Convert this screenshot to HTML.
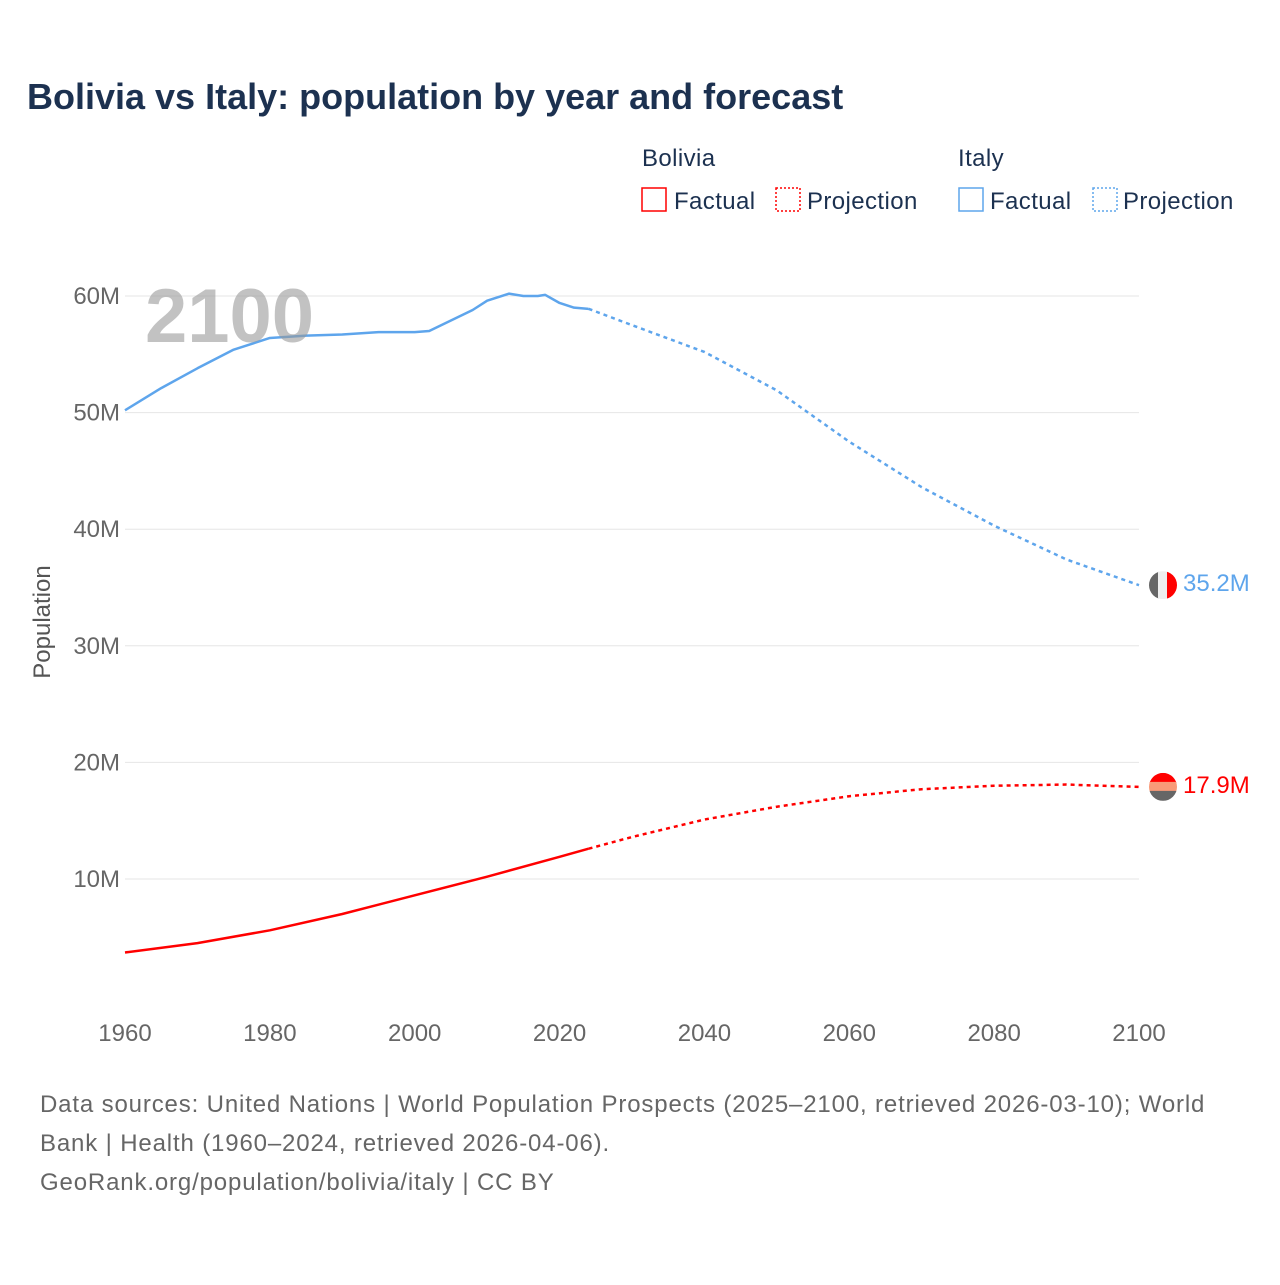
<!DOCTYPE html>
<html><head><meta charset="utf-8">
<style>
body{margin:0;background:#fff;font-family:"Liberation Sans",sans-serif;}
svg text{font-family:"Liberation Sans",sans-serif;}
</style></head>
<body>
<svg width="1280" height="1280" viewBox="0 0 1280 1280">
<text x="27" y="109" font-size="36" font-weight="bold" fill="#1c3150">Bolivia vs Italy: population by year and forecast</text>
<g letter-spacing="0.4">
<text x="642" y="166" font-size="24" fill="#1c3150">Bolivia</text>
<text x="958" y="166" font-size="24" fill="#1c3150">Italy</text>
<rect x="642" y="188" width="24" height="23" fill="none" stroke="#ff0000" stroke-width="1.5"/>
<text x="674" y="209" font-size="24" fill="#1c3150">Factual</text>
<rect x="776" y="188" width="24" height="23" fill="none" stroke="#ff0000" stroke-width="1.5" stroke-dasharray="2,2"/>
<text x="807" y="209" font-size="24" fill="#1c3150">Projection</text>
<rect x="959" y="188" width="24" height="23" fill="none" stroke="#5ea5ec" stroke-width="1.5"/>
<text x="990" y="209" font-size="24" fill="#1c3150">Factual</text>
<rect x="1093" y="188" width="24" height="23" fill="none" stroke="#5ea5ec" stroke-width="1.5" stroke-dasharray="2,2"/>
<text x="1123" y="209" font-size="24" fill="#1c3150">Projection</text>
</g>
<g id="grid"></g>
<g id="lines"></g>
<text x="145" y="342" font-size="76" font-weight="bold" fill="#999" fill-opacity="0.6">2100</text>
<text transform="translate(50,622) rotate(-90)" text-anchor="middle" font-size="24" fill="#555">Population</text>
<g id="ends"></g>
<g font-size="24" fill="#666" letter-spacing="0.85">
<text x="40" y="1112">Data sources: United Nations | World Population Prospects (2025–2100, retrieved 2026-03-10); World</text>
<text x="40" y="1151">Bank | Health (1960–2024, retrieved 2026-04-06).</text>
<text x="40" y="1190">GeoRank.org/population/bolivia/italy | CC BY</text>
</g>
</svg>
<script>
const xTicks=[1960,1980,2000,2020,2040,2060,2080,2100];
const yTicks=[10,20,30,40,50,60];
const yTickLabels=["10M","20M","30M","40M","50M","60M"];
const italyYears=[1960,1965,1970,1975,1980,1985,1990,1995,2000,2002,2005,2008,2010,2013,2015,2017,2018,2020,2022,2024];
const italyValues=[50.2,52.1,53.8,55.4,56.4,56.6,56.7,56.9,56.9,57.0,57.9,58.8,59.6,60.2,60.0,60.0,60.1,59.4,59.0,58.9];
const italyProjYears=[2024,2030,2040,2050,2060,2070,2080,2090,2100];
const italyProjValues=[58.9,57.5,55.2,51.9,47.5,43.6,40.3,37.4,35.2];
const boliviaYears=[1960,1970,1980,1990,2000,2010,2020,2024];
const boliviaValues=[3.7,4.5,5.6,7.0,8.6,10.2,11.9,12.6];
const boliviaProjYears=[2024,2030,2040,2050,2060,2070,2080,2090,2100];
const boliviaProjValues=[12.6,13.6,15.1,16.2,17.1,17.7,18.0,18.1,17.9];
const endLabels=["35.2M","17.9M"];
const NS="http://www.w3.org/2000/svg";
const X=y=>125+(y-1960)*(1139-125)/140;
const Y=v=>995.6-v*11.66;
function mk(t,a,p){const e=document.createElementNS(NS,t);for(const k in a)e.setAttribute(k,a[k]);document.getElementById(p).appendChild(e);return e;}
yTicks.forEach((v,i)=>{
 const l=mk('line',{x1:125,x2:1139,y1:Y(v),y2:Y(v),stroke:'#e6e6e6','stroke-width':1},'grid');
 
 
 const t=mk('text',{x:120,y:Y(v)+8,'text-anchor':'end','font-size':24,fill:'#666'},'grid');
 t.textContent=yTickLabels[i];
 
 
});
xTicks.forEach(v=>{
 const t=mk('text',{x:X(v),y:1041,'text-anchor':'middle','font-size':24,fill:'#666'},'grid');
 t.textContent=v;
 
 
});
function line(xs,vs,color,dash,name){
 const p=mk('polyline',{points:xs.map((x,i)=>X(x)+','+Y(vs[i])).join(' '),fill:'none',stroke:color,'stroke-width':2.5,'stroke-dasharray':dash,'stroke-linejoin':'round'},'lines');
 
 
}
line(italyYears,italyValues,'#5ea5ec','none','italy-factual-line');
line(italyProjYears,italyProjValues,'#5ea5ec','4,4','italy-projection-line');
line(boliviaYears,boliviaValues,'#ff0000','none','bolivia-factual-line');
line(boliviaProjYears,boliviaProjValues,'#ff0000','4,4','bolivia-projection-line');
const iy=Y(italyProjValues[italyProjValues.length-1]), by=Y(boliviaProjValues[boliviaProjValues.length-1]);
const g=document.getElementById('ends');
g.innerHTML=`<defs><clipPath id="ci"><circle cx="1163" cy="${iy}" r="14"/></clipPath><clipPath id="cb"><circle cx="1163" cy="${by}" r="14"/></clipPath></defs>
<g clip-path="url(#ci)"><rect x="1149" y="${iy-14}" width="10" height="28" fill="#666"/><rect x="1158" y="${iy-14}" width="10" height="28" fill="#eee"/><rect x="1167" y="${iy-14}" width="10" height="28" fill="#f00"/></g>
<g clip-path="url(#cb)"><rect x="1149" y="${by-14}" width="28" height="10" fill="#f00"/><rect x="1149" y="${by-5}" width="28" height="10" fill="#f99a78"/><rect x="1149" y="${by+4}" width="28" height="10" fill="#666"/></g>
<text x="1183" y="${iy+6}" font-size="24" fill="#5ea5ec">${endLabels[0]}</text>
<text x="1183" y="${by+6}" font-size="24" fill="#ff0000">${endLabels[1]}</text>`;
</script>
</body></html>
